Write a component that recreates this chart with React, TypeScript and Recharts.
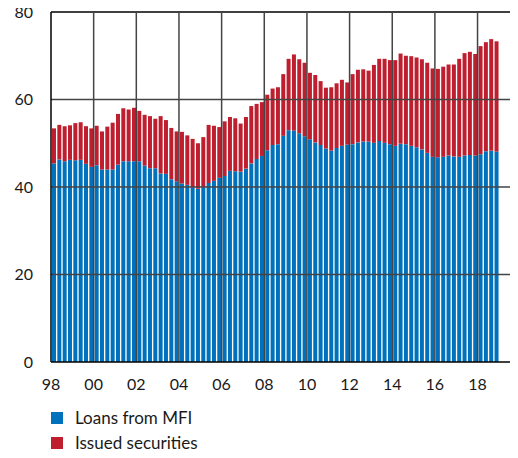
import {
  BarChart,
  Bar,
  XAxis,
  YAxis,
  ReferenceLine,
  Legend,
} from "recharts";

// quarterly, 1998Q1 - 2018Q4
const startYear = 1998;

const loansFromMfi = [
  45.4, 46.3, 45.9, 46.2, 46.1, 46.2, 45.3, 44.6,
  45.0, 44.0, 44.0, 44.0, 45.1, 45.9, 45.9, 45.9,
  45.9, 44.9, 44.3, 44.3, 43.1, 43.0, 41.8, 41.3,
  40.8, 40.5, 39.9, 39.6, 39.9, 40.9, 41.4, 42.1,
  42.5, 43.7, 43.6, 43.5, 44.2, 45.4, 46.4, 47.1,
  48.4, 49.6, 49.8, 51.7, 53.0, 52.9, 52.3, 51.6,
  50.9, 50.2, 49.6, 48.8, 48.3, 48.9, 49.4, 49.7,
  49.8, 50.2, 50.4, 50.4, 50.1, 50.5, 50.1, 49.8,
  49.4, 49.9, 49.8, 49.4, 49.1, 48.6, 47.8, 46.9,
  46.8, 46.9, 47.2, 47.0, 46.9, 47.2, 47.3, 47.2,
  47.5, 48.2, 48.3, 48.1,
];

const issuedSecurities = [
  8.0, 7.9, 8.0, 7.9, 8.5, 8.6, 8.6, 8.8,
  9.0, 8.7, 9.8, 10.7, 11.6, 12.1, 11.8, 12.2,
  11.5, 11.6, 11.9, 11.3, 13.1, 12.3, 11.7, 11.4,
  11.8, 11.3, 11.1, 10.4, 11.5, 13.3, 12.6, 11.6,
  12.5, 12.3, 12.1, 11.0, 11.8, 13.1, 12.6, 12.3,
  12.7, 12.9, 13.0, 14.1, 16.3, 17.4, 16.9, 16.8,
  15.2, 15.4, 14.6, 13.9, 14.5, 14.8, 15.1, 14.2,
  16.0, 16.6, 16.5, 16.2, 17.8, 18.8, 19.2, 19.2,
  19.6, 20.6, 20.2, 20.5, 20.5, 20.6, 20.6, 20.2,
  20.2, 20.6, 20.8, 21.0, 22.4, 23.4, 23.6, 23.2,
  24.7, 24.9, 25.5, 25.2,
];

const yearTicks = [1998, 2000, 2002, 2004, 2006, 2008, 2010, 2012, 2014, 2016, 2018];
const valueTicks = [0, 20, 40, 60, 80];

const data = loansFromMfi.map((loans, i) => ({
  t: startYear + Math.floor(i / 4) + (i % 4) * 0.25 + 0.125,
  loans,
  securities: issuedSecurities[i],
}));

const BLUE = "#0071bc";
const RED = "#be1e2d";
const FONT = "Lato, 'Open Sans', sans-serif";

const legendItems = [
  { label: "Loans from MFI", color: BLUE },
  { label: "Issued securities", color: RED },
];

function ChartLegend() {
  return (
    <div style={{ height: 62, paddingTop: 9, paddingLeft: 51, boxSizing: "border-box", fontFamily: FONT }}>
      {legendItems.map((it) => (
        <div key={it.label} style={{ display: "flex", alignItems: "center", height: 25 }}>
          <span style={{ width: 12, height: 12, background: it.color, display: "inline-block" }} />
          <span style={{ marginLeft: 12, fontSize: 17, color: "#1a1a1a" }}>{it.label}</span>
        </div>
      ))}
    </div>
  );
}

export default function App() {
  return (
    <div style={{ margin: -8, width: 518, height: 458, background: "#fff" }}>
      <BarChart
        width={518}
        height={458}
        data={data}
        margin={{ top: 12, right: 1, left: 0, bottom: 0 }}
        barGap={0}
      >
        <XAxis
          dataKey="t"
          type="number"
          domain={[1998, 2019.85]}
          ticks={yearTicks}
          allowDataOverflow
          tickFormatter={(v) => String(v % 100).padStart(2, "0")}
          tick={{ fontSize: 16, fill: "#1a1a1a", fontFamily: FONT }}
          tickLine={false}
          tickSize={0}
          tickMargin={17}
          height={34}
          axisLine={{ stroke: "#000", strokeWidth: 1.5 }}
        />
        <YAxis
          domain={[0, 80]}
          ticks={valueTicks}
          width={51}
          tick={{ fontSize: 16, fill: "#1a1a1a", fontFamily: FONT }}
          tickLine={false}
          tickSize={0}
          tickMargin={18}
          axisLine={{ stroke: "#000", strokeWidth: 1.5 }}
        />
        <Bar dataKey="loans" stackId="a" fill={BLUE} barSize={4} isAnimationActive={false} />
        <Bar dataKey="securities" stackId="a" fill={RED} barSize={4} isAnimationActive={false} />
        {valueTicks.slice(1).map((v) => (
          <ReferenceLine key={"h" + v} y={v} stroke={v === 80 ? "#000" : "#444"} strokeWidth={1.5} />
        ))}
        {yearTicks.slice(1).map((v) => (
          <ReferenceLine key={"v" + v} x={v} stroke="#444" strokeWidth={1.5} />
        ))}
        <Legend verticalAlign="bottom" align="left" content={() => <ChartLegend />} />
      </BarChart>
    </div>
  );
}
